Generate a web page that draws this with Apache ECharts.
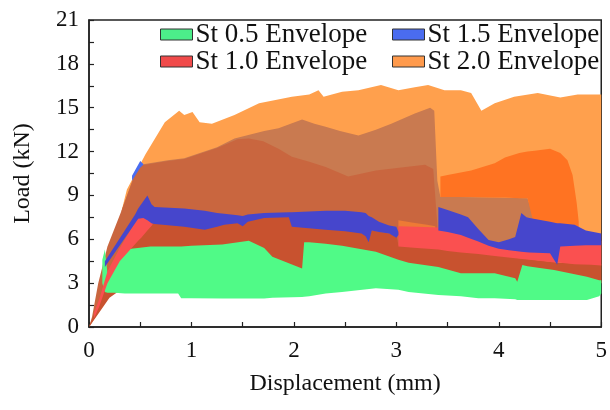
<!DOCTYPE html>
<html>
<head>
<meta charset="utf-8">
<script src="https://cdn.jsdelivr.net/npm/echarts@6/dist/echarts.min.js"></script>
<style>
  html, body { margin: 0; padding: 0; background: #fff; }
  #chart { width: 610px; height: 410px; }
</style>
</head>
<body>
<div id="chart"></div>
<script>
// each band: [displacement (mm), lower load (kN), upper load (kN)]
const st20Main = [
  [0.32, 3, 8.0], [0.37, 3, 9.4], [0.55, 3, 11.8], [0.74, 3, 14.0], [0.88, 3, 14.8],
  [0.93, 3, 14.5], [1.01, 3, 14.7], [1.08, 3, 14.0], [1.2, 3, 13.9], [1.42, 3, 14.5],
  [1.66, 3, 15.3], [1.98, 3, 15.75], [2.15, 3, 15.9], [2.24, 3, 16.2], [2.29, 3, 15.75],
  [2.47, 3, 16.1], [2.63, 3, 16.2], [2.85, 3, 16.55], [3.02, 3, 16.2], [3.18, 3, 16.4],
  [3.31, 3, 16.55], [3.47, 3, 16.2], [3.63, 3, 16.2], [3.73, 3, 16.0], [3.83, 3, 14.8],
  [3.96, 3, 15.3], [4.15, 3, 15.75], [4.38, 3, 16.0], [4.6, 3, 15.7], [4.77, 3, 15.9], [5.0, 3, 15.9]
]
const st20Mid = [
  [0.32, 3, 8.0], [0.45, 3, 10.5], [0.5, 3, 11.1], [0.77, 3, 11.4], [0.93, 3, 11.55],
  [1.25, 3, 12.3], [1.42, 3, 12.9], [1.71, 3, 13.4], [1.85, 3, 13.6], [2.08, 3, 14.2],
  [2.2, 3, 13.9], [2.31, 3, 13.7], [2.45, 3, 13.4], [2.63, 3, 13.1], [2.8, 3, 13.5],
  [2.95, 3, 13.9], [3.18, 3, 14.6], [3.33, 3, 15.0], [3.37, 3, 14.8], [3.40, 3, 10.0],
  [3.43, 3, 8.9], [3.6, 3, 8.9], [3.96, 3, 8.85], [4.28, 3, 8.8], [4.35, 3, 7.3]
]
const st20Inner = [
  [0, 0, 0], [0.03, 0.3, 0.7], [0.09, 1.0, 3.0], [0.18, 2.0, 5.5], [0.32, 3, 8.0],
  [0.45, 3, 10.5], [0.5, 3, 11.05], [0.77, 3, 11.35], [0.93, 3, 11.5], [1.25, 3, 12.25],
  [1.45, 3, 12.85], [1.56, 3, 12.9], [1.7, 3, 12.7], [1.85, 3, 12.2], [1.98, 3, 11.65],
  [2.15, 3, 11.3], [2.31, 3, 10.95], [2.53, 3, 10.3], [2.8, 3, 10.7], [3.09, 3, 10.95],
  [3.28, 3, 11.1], [3.36, 3, 10.8], [3.40, 3, 7.0]
]
const st20Strip = [[3.02, 6.8, 7.3], [3.15, 6.8, 7.15], [3.3, 6.75, 7.0], [3.38, 6.75, 6.9]]
const st20Peak = [
  [3.43, 8.9, 10.3], [3.5, 8.9, 10.4], [3.73, 8.9, 10.7], [3.96, 8.85, 11.2], [4.06, 8.85, 11.6],
  [4.2, 8.8, 11.9], [4.28, 8.8, 12.0], [4.35, 6.8, 12.05], [4.5, 6.8, 12.2], [4.6, 6.8, 11.9],
  [4.67, 6.8, 11.4], [4.72, 6.8, 10.4], [4.76, 6.8, 8.5], [4.78, 6.8, 7.2]
]
const st10Under = [
  [0, 0, 0], [0.1, 1.0, 1.8], [0.2, 2.0, 3.9], [0.3, 2.5, 5.0], [0.5, 3, 6.8], [0.62, 3, 7.3],
  [0.8, 3, 7.3], [1.0, 3, 7.1], [1.3, 3, 7.2], [1.6, 3, 7.4], [1.95, 3, 7.6], [1.98, 3, 7.0],
  [2.3, 3, 6.8], [2.66, 3, 6.6], [2.73, 3, 6.0], [2.76, 3, 6.6], [3.0, 3, 6.3], [3.02, 3, 5.6],
  [3.41, 3, 5.4], [3.8, 3, 5.1], [4.2, 3, 4.7], [4.6, 3, 4.4], [5.0, 3, 4.3]
]
const st05Band = [
  [0.13, 3.0, 4.6], [0.155, 2.4, 5.3], [0.18, 2.35, 3.7], [0.25, 2.35, 4.5], [0.35, 2.3, 5.3],
  [0.6, 2.3, 5.5], [0.87, 2.3, 5.5], [0.9, 1.96, 5.5], [1.0, 1.96, 5.55], [1.3, 1.95, 5.65],
  [1.56, 1.95, 5.9], [1.71, 1.95, 5.4], [1.79, 2.0, 4.8], [2.08, 2.05, 4.0], [2.1, 2.07, 5.8],
  [2.15, 2.1, 5.8], [2.31, 2.3, 5.7], [2.47, 2.4, 5.55], [2.8, 2.65, 5.15], [3.02, 2.55, 4.6],
  [3.12, 2.4, 4.4], [3.41, 2.19, 4.1], [3.63, 2.1, 3.67], [3.8, 1.96, 3.67], [3.96, 1.96, 3.67],
  [4.16, 1.9, 3.33], [4.18, 1.85, 3.1], [4.23, 1.85, 4.24], [4.28, 1.85, 4.15], [4.54, 1.85, 3.9],
  [4.86, 1.85, 3.44], [4.98, 2.1, 3.2], [5.0, 2.3, 3.2]
]
const st10Left = [
  [0.05, 0.6, 1.0], [0.1, 1.4, 1.9], [0.18, 3.0, 3.8], [0.3, 4.5, 5.4], [0.48, 5.9, 7.5],
  [0.51, 6.1, 7.65], [0.57, 6.6, 7.4], [0.62, 7.0, 7.1]
]
const st10Right = [
  [3.02, 5.5, 6.9], [3.2, 5.4, 6.85], [3.41, 5.3, 6.8], [3.5, 5.2, 6.9], [3.63, 5.1, 6.7],
  [3.8, 5.0, 6.0], [3.96, 4.85, 5.8], [4.16, 4.7, 5.6], [4.3, 4.6, 5.5], [4.5, 4.45, 5.4],
  [4.57, 4.4, 4.6], [4.6, 4.4, 5.8], [4.74, 4.3, 5.9], [4.9, 4.25, 5.9], [5.0, 4.2, 5.9]
]
const st15Left = [
  [0.155, 4.1, 4.5], [0.45, 7.1, 7.7], [0.48, 7.4, 8.1], [0.53, 7.45, 8.6], [0.57, 7.3, 9.0],
  [0.61, 7.1, 8.4], [0.64, 7.05, 8.2], [0.93, 6.85, 8.1], [1.13, 6.65, 7.95], [1.25, 6.85, 7.8],
  [1.32, 7.0, 7.75], [1.45, 7.1, 7.65], [1.5, 6.9, 7.6], [1.55, 7.2, 7.7], [1.71, 7.45, 7.8],
  [1.95, 7.5, 7.85], [1.98, 6.85, 7.85], [2.31, 6.65, 7.95], [2.5, 6.55, 7.95], [2.66, 6.4, 7.85],
  [2.7, 6.2, 7.8], [2.73, 5.8, 7.6], [2.76, 6.6, 7.5], [2.83, 6.5, 7.2], [2.93, 6.4, 6.95],
  [3.0, 6.1, 6.85], [3.02, 6.3, 6.5]
]
const st15Right = [
  [3.41, 6.6, 8.2], [3.5, 6.5, 8.0], [3.63, 6.3, 7.7], [3.7, 6.1, 7.5], [3.8, 5.85, 6.7],
  [3.9, 5.55, 5.95], [4.0, 5.35, 5.8], [4.1, 5.25, 6.0], [4.16, 5.2, 6.15], [4.22, 5.15, 7.8],
  [4.27, 5.12, 7.5], [4.3, 5.1, 7.45], [4.5, 5.05, 7.2], [4.57, 4.25, 7.1], [4.6, 5.5, 7.1],
  [4.74, 5.55, 7.0], [4.85, 5.6, 6.6], [5.0, 5.6, 6.4]
]
const st15Spike = [[0.42, 10.0, 10.35], [0.5, 10.9, 11.35], [0.53, 11.1, 11.15]]

const font = 'Liberation Serif'
const legendColors = {
  'St 0.5 Envelope': '#4cee8a',
  'St 1.0 Envelope': '#f04a4a',
  'St 1.5 Envelope': '#4a6cf0',
  'St 2.0 Envelope': '#ff9a4c'
}

const renderBand = (band) => (params, api) => {
  if (params.dataIndex !== 0) return null
  const top = band.map(p => api.coord([p[0], p[2]]))
  const bottom = band.map(p => api.coord([p[0], p[1]])).reverse()
  return {
    type: 'polygon',
    shape: { points: top.concat(bottom) },
    style: { fill: api.visual('color') }
  }
}

// drawn bottom to top
const layers = [
  ['St 2.0 Envelope', st20Main, '#ffa04d'],
  ['St 2.0 Envelope', st20Mid, '#c97a50'],
  ['St 2.0 Envelope', st20Inner, '#c9663f'],
  ['St 2.0 Envelope', st20Strip, '#ee7a35'],
  ['St 2.0 Envelope', st20Peak, '#ff7322'],
  ['St 1.0 Envelope', st10Under, '#c8522f'],
  ['St 0.5 Envelope', st05Band, '#50fa87'],
  ['St 1.0 Envelope', st10Left, '#fa5050'],
  ['St 1.0 Envelope', st10Right, '#fa5050'],
  ['St 1.5 Envelope', st15Left, '#4646cc'],
  ['St 1.5 Envelope', st15Right, '#4646cc'],
  ['St 1.5 Envelope', st15Spike, '#4a6cf0']
]

const series = layers.map((l, i) => ({
  name: l[0],
  type: 'custom',
  renderItem: renderBand(l[1]),
  data: l[1],
  encode: { x: 0, y: [1, 2] },
  itemStyle: { color: l[2] },
  z: 2 + i,
  silent: true
}))

const legendItem = (name) => ({
  name,
  icon: 'rect',
  itemStyle: { color: legendColors[name], borderColor: '#333', borderWidth: 1 }
})
const legendBase = {
  orient: 'vertical',
  top: 16,
  itemGap: 0,
  itemWidth: 32,
  itemHeight: 11,
  selectedMode: false,
  textStyle: { fontFamily: font, fontSize: 27, color: '#111', lineHeight: 25, padding: [0, 0, 0, -2] }
}

const tickStyle = { color: '#222', width: 1.2 }
const chart = echarts.init(document.getElementById('chart'))
chart.setOption({
  animation: false,
  grid: { left: 89, right: 6, top: 20, bottom: 83, show: true, borderColor: '#222', borderWidth: 1.5 },
  legend: [
    Object.assign({}, legendBase, { left: 155, data: [legendItem('St 0.5 Envelope'), legendItem('St 1.0 Envelope')] }),
    Object.assign({}, legendBase, { left: 387, data: [legendItem('St 1.5 Envelope'), legendItem('St 2.0 Envelope')] })
  ],
  xAxis: {
    type: 'value',
    min: 0,
    max: 5,
    interval: 1,
    name: 'Displacement (mm)',
    nameLocation: 'middle',
    nameGap: 45,
    nameTextStyle: { fontFamily: font, fontSize: 24, color: '#111' },
    axisLine: { lineStyle: { color: '#222', width: 1.5 } },
    axisTick: { inside: true, length: 5, lineStyle: tickStyle },
    minorTick: { show: true, splitNumber: 2, length: 5, lineStyle: tickStyle },
    splitLine: { show: false },
    axisLabel: { fontFamily: font, fontSize: 23, color: '#111', margin: 12 }
  },
  yAxis: {
    type: 'value',
    min: 0,
    max: 21,
    interval: 3,
    name: 'Load (kN)',
    nameLocation: 'middle',
    nameGap: 54,
    nameTextStyle: { fontFamily: font, fontSize: 24, color: '#111' },
    axisLine: { lineStyle: { color: '#222', width: 1.5 } },
    axisTick: { inside: true, length: 5, lineStyle: tickStyle },
    minorTick: { show: true, splitNumber: 2, length: 5, lineStyle: tickStyle },
    splitLine: { show: false },
    axisLabel: { fontFamily: font, fontSize: 23, color: '#111', margin: 10 }
  },
  series
})
</script>
</body>
</html>
